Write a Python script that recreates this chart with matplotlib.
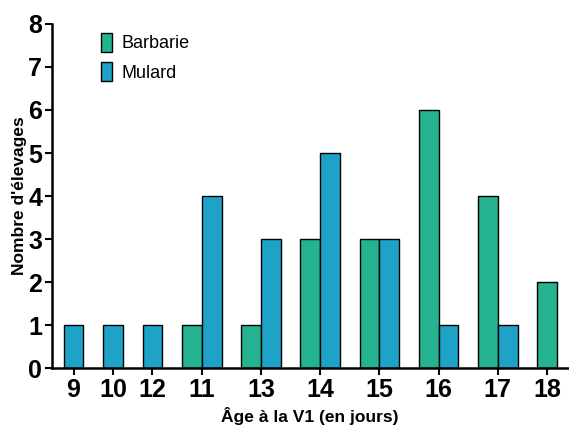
import matplotlib.pyplot as plt
from matplotlib.patches import Patch

plt.rcParams["font.family"] = ["Liberation Sans", "DejaVu Sans"]

ages = ["9", "10", "12", "11", "13", "14", "15", "16", "17", "18"]
barbarie = [0, 0, 0, 1, 1, 3, 3, 6, 4, 2]
mulard = [1, 1, 1, 4, 3, 5, 3, 1, 1, 0]

GREEN = "#24b290"
BLUE = "#1ea2c8"

fig = plt.figure(figsize=(5.69, 4.28), dpi=100)
ax = fig.add_axes([0.0914, 0.140, 0.907, 0.804])

# bars of width 1, one bar-width gap between groups; empty series are skipped
left = 0.0
centers = []
for b, m in zip(barbarie, mulard):
    series = [(v, c) for v, c in ((b, GREEN), (m, BLUE)) if v > 0]
    n = len(series)
    for k, (v, c) in enumerate(series):
        ax.bar(left + k + 0.5, v, width=1.0, color=c, edgecolor="black", linewidth=1.0)
    centers.append(left + n / 2)
    left += n + 1

ax.set_xlim(-0.59, 25.56)
ax.set_ylim(0, 8)
ax.set_xticks(centers)
ax.set_xticklabels(ages, fontsize=18, fontweight="bold")
ax.set_yticks(range(9))
ax.set_yticklabels([str(i) for i in range(9)], fontsize=18, fontweight="bold")
ax.tick_params(axis="both", length=5, width=1.5, pad=2)

for s in ("top", "right"):
    ax.spines[s].set_visible(False)
for s in ("left", "bottom"):
    ax.spines[s].set_linewidth(1.8)

ax.set_xlabel("Âge à la V1 (en jours)", fontsize=12.5, fontweight="bold", labelpad=4)
ax.set_ylabel("Nombre d'élevages", fontsize=12.5, fontweight="bold", labelpad=1)

handles = [Patch(facecolor=GREEN, edgecolor="black", label="Barbarie"),
           Patch(facecolor=BLUE, edgecolor="black", label="Mulard")]
ax.legend(handles=handles, loc="upper left", bbox_to_anchor=(0.08, 0.996),
          frameon=False, fontsize=13, handlelength=0.65, handleheight=1.25,
          handletextpad=0.5, labelspacing=0.55, borderaxespad=0)

fig.savefig("out.png", dpi=100)
